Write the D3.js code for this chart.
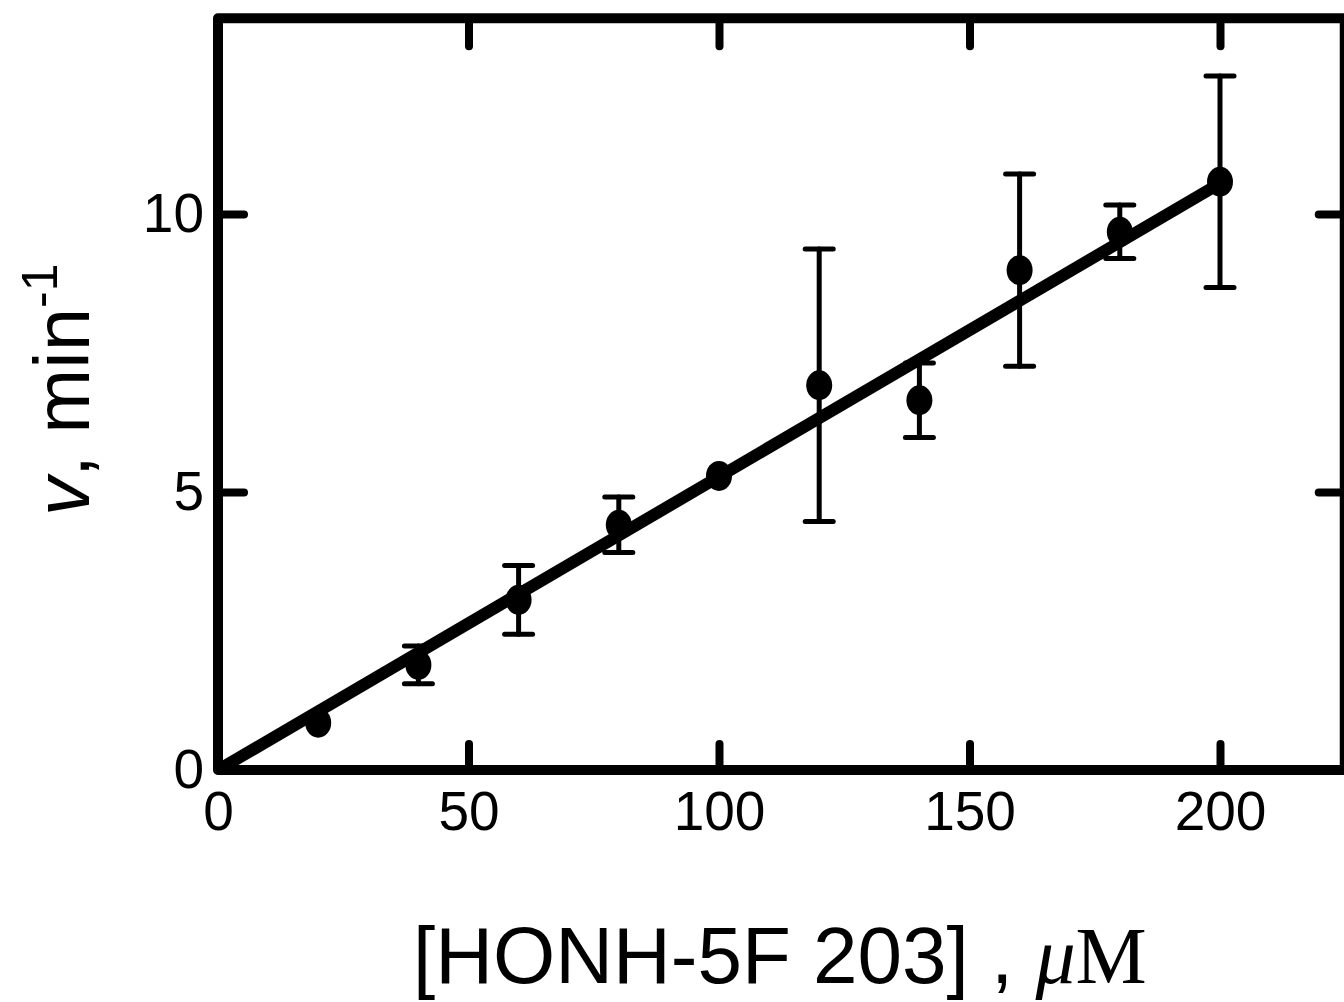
<!DOCTYPE html>
<html>
<head>
<meta charset="utf-8">
<script src="https://cdn.jsdelivr.net/npm/d3@7"></script>
<style>
  body { margin: 0; background: #fff; }
  svg { display: block; }
  .tick text { font-family: "Liberation Sans", Arial, sans-serif; }
</style>
</head>
<body>
<svg id="canvas" width="1344" height="1002"></svg>
<script>
var conc  = [20, 40, 60, 80, 100, 120, 140, 160, 180, 200];
var rate  = [0.85, 1.89, 3.06, 4.41, 5.29, 6.92, 6.65, 8.99, 9.68, 10.58];
var err   = [0, 0.34, 0.62, 0.5, 0, 2.45, 0.67, 1.73, 0.48, 1.9];
var fitX  = [0, 200];
var fitY  = [0, 10.55];
var xTicks = [0, 50, 100, 150, 200];
var yTicks = [0, 5, 10];

var svg = d3.select("#canvas");

var x = d3.scaleLinear().domain([0, 200]).range([218, 1220]);
var y = d3.scaleLinear().domain([0, 10]).range([770, 214]);

var boxL = x(0), boxR = x(224.9), boxT = y(13.52), boxB = y(0);

// ticks (inward)
function styleAxis(g, labels) {
  g.select(".domain").remove();
  g.selectAll(".tick line")
    .attr("stroke", "#000")
    .attr("stroke-width", 8)
    .attr("stroke-linecap", "round");
  if (labels) {
    g.selectAll(".tick text").attr("fill", "#000").style("font-size", "55px");
  } else {
    g.selectAll(".tick text").remove();
  }
}

svg.append("g")
  .attr("transform", "translate(0," + boxB + ")")
  .call(d3.axisBottom(x).tickValues(xTicks).tickSize(-26).tickPadding(21).tickFormat(d3.format("d")))
  .call(styleAxis, true);

svg.append("g")
  .attr("transform", "translate(0," + boxT + ")")
  .call(d3.axisTop(x).tickValues(xTicks.slice(1)).tickSize(-28))
  .call(styleAxis, false);

svg.append("g")
  .attr("transform", "translate(" + boxL + ",0)")
  .call(d3.axisLeft(y).tickValues(yTicks).tickSize(-26).tickPadding(14).tickFormat(d3.format("d")))
  .call(styleAxis, true);

svg.append("g")
  .attr("transform", "translate(" + boxR + ",0)")
  .call(d3.axisRight(y).tickValues(yTicks.slice(1)).tickSize(-26))
  .call(styleAxis, false);

// frame
svg.append("rect")
  .attr("x", boxL).attr("y", boxT)
  .attr("width", boxR - boxL).attr("height", boxB - boxT)
  .attr("fill", "none")
  .attr("stroke", "#000")
  .attr("stroke-width", 10)
  .attr("stroke-linejoin", "round");

// error bars
var pts = d3.range(conc.length).map(function(i){ return {x: conc[i], y: rate[i], e: err[i]}; });
var bars = svg.append("g").attr("stroke", "#000").attr("stroke-width", 5).attr("stroke-linecap", "round");
pts.filter(function(d){ return d.e > 0; }).forEach(function(d){
  var cx = x(d.x), y1 = y(d.y + d.e), y2 = y(d.y - d.e);
  bars.append("line").attr("x1", cx).attr("x2", cx).attr("y1", y1).attr("y2", y2);
  bars.append("line").attr("x1", cx - 14).attr("x2", cx + 14).attr("y1", y1).attr("y2", y1);
  bars.append("line").attr("x1", cx - 14).attr("x2", cx + 14).attr("y1", y2).attr("y2", y2);
});

// fitted line
svg.append("path")
  .datum(d3.zip(fitX, fitY))
  .attr("d", d3.line().x(function(d){ return x(d[0]); }).y(function(d){ return y(d[1]); }))
  .attr("stroke", "#000")
  .attr("stroke-width", 12)
  .attr("fill", "none");

// points
svg.append("g").selectAll("ellipse")
  .data(pts)
  .enter().append("ellipse")
  .attr("cx", function(d){ return x(d.x); })
  .attr("cy", function(d){ return y(d.y); })
  .attr("rx", 13)
  .attr("ry", 15)
  .attr("fill", "#000");

// axis titles
svg.append("text")
  .attr("x", 413).attr("y", 983)
  .style("font-family", "'Liberation Sans', Arial, sans-serif")
  .style("font-size", "80px")
  .text("[HONH-5F 203] , ")
  .append("tspan")
  .style("font-family", "'Liberation Serif', 'Times New Roman', serif")
  .style("font-style", "italic")
  .text("\u03bc")
  .append("tspan")
  .style("font-style", "normal")
  .text("M");

var yt = svg.append("text")
  .attr("transform", "translate(89,516) rotate(-90)")
  .style("font-family", "'Liberation Sans', Arial, sans-serif")
  .style("font-size", "78px");
yt.append("tspan").style("font-style", "italic").text("v");
yt.append("tspan").text(", min");
yt.append("tspan").attr("dy", -32).style("font-size", "50px").text("-1");
</script>
</body>
</html>
